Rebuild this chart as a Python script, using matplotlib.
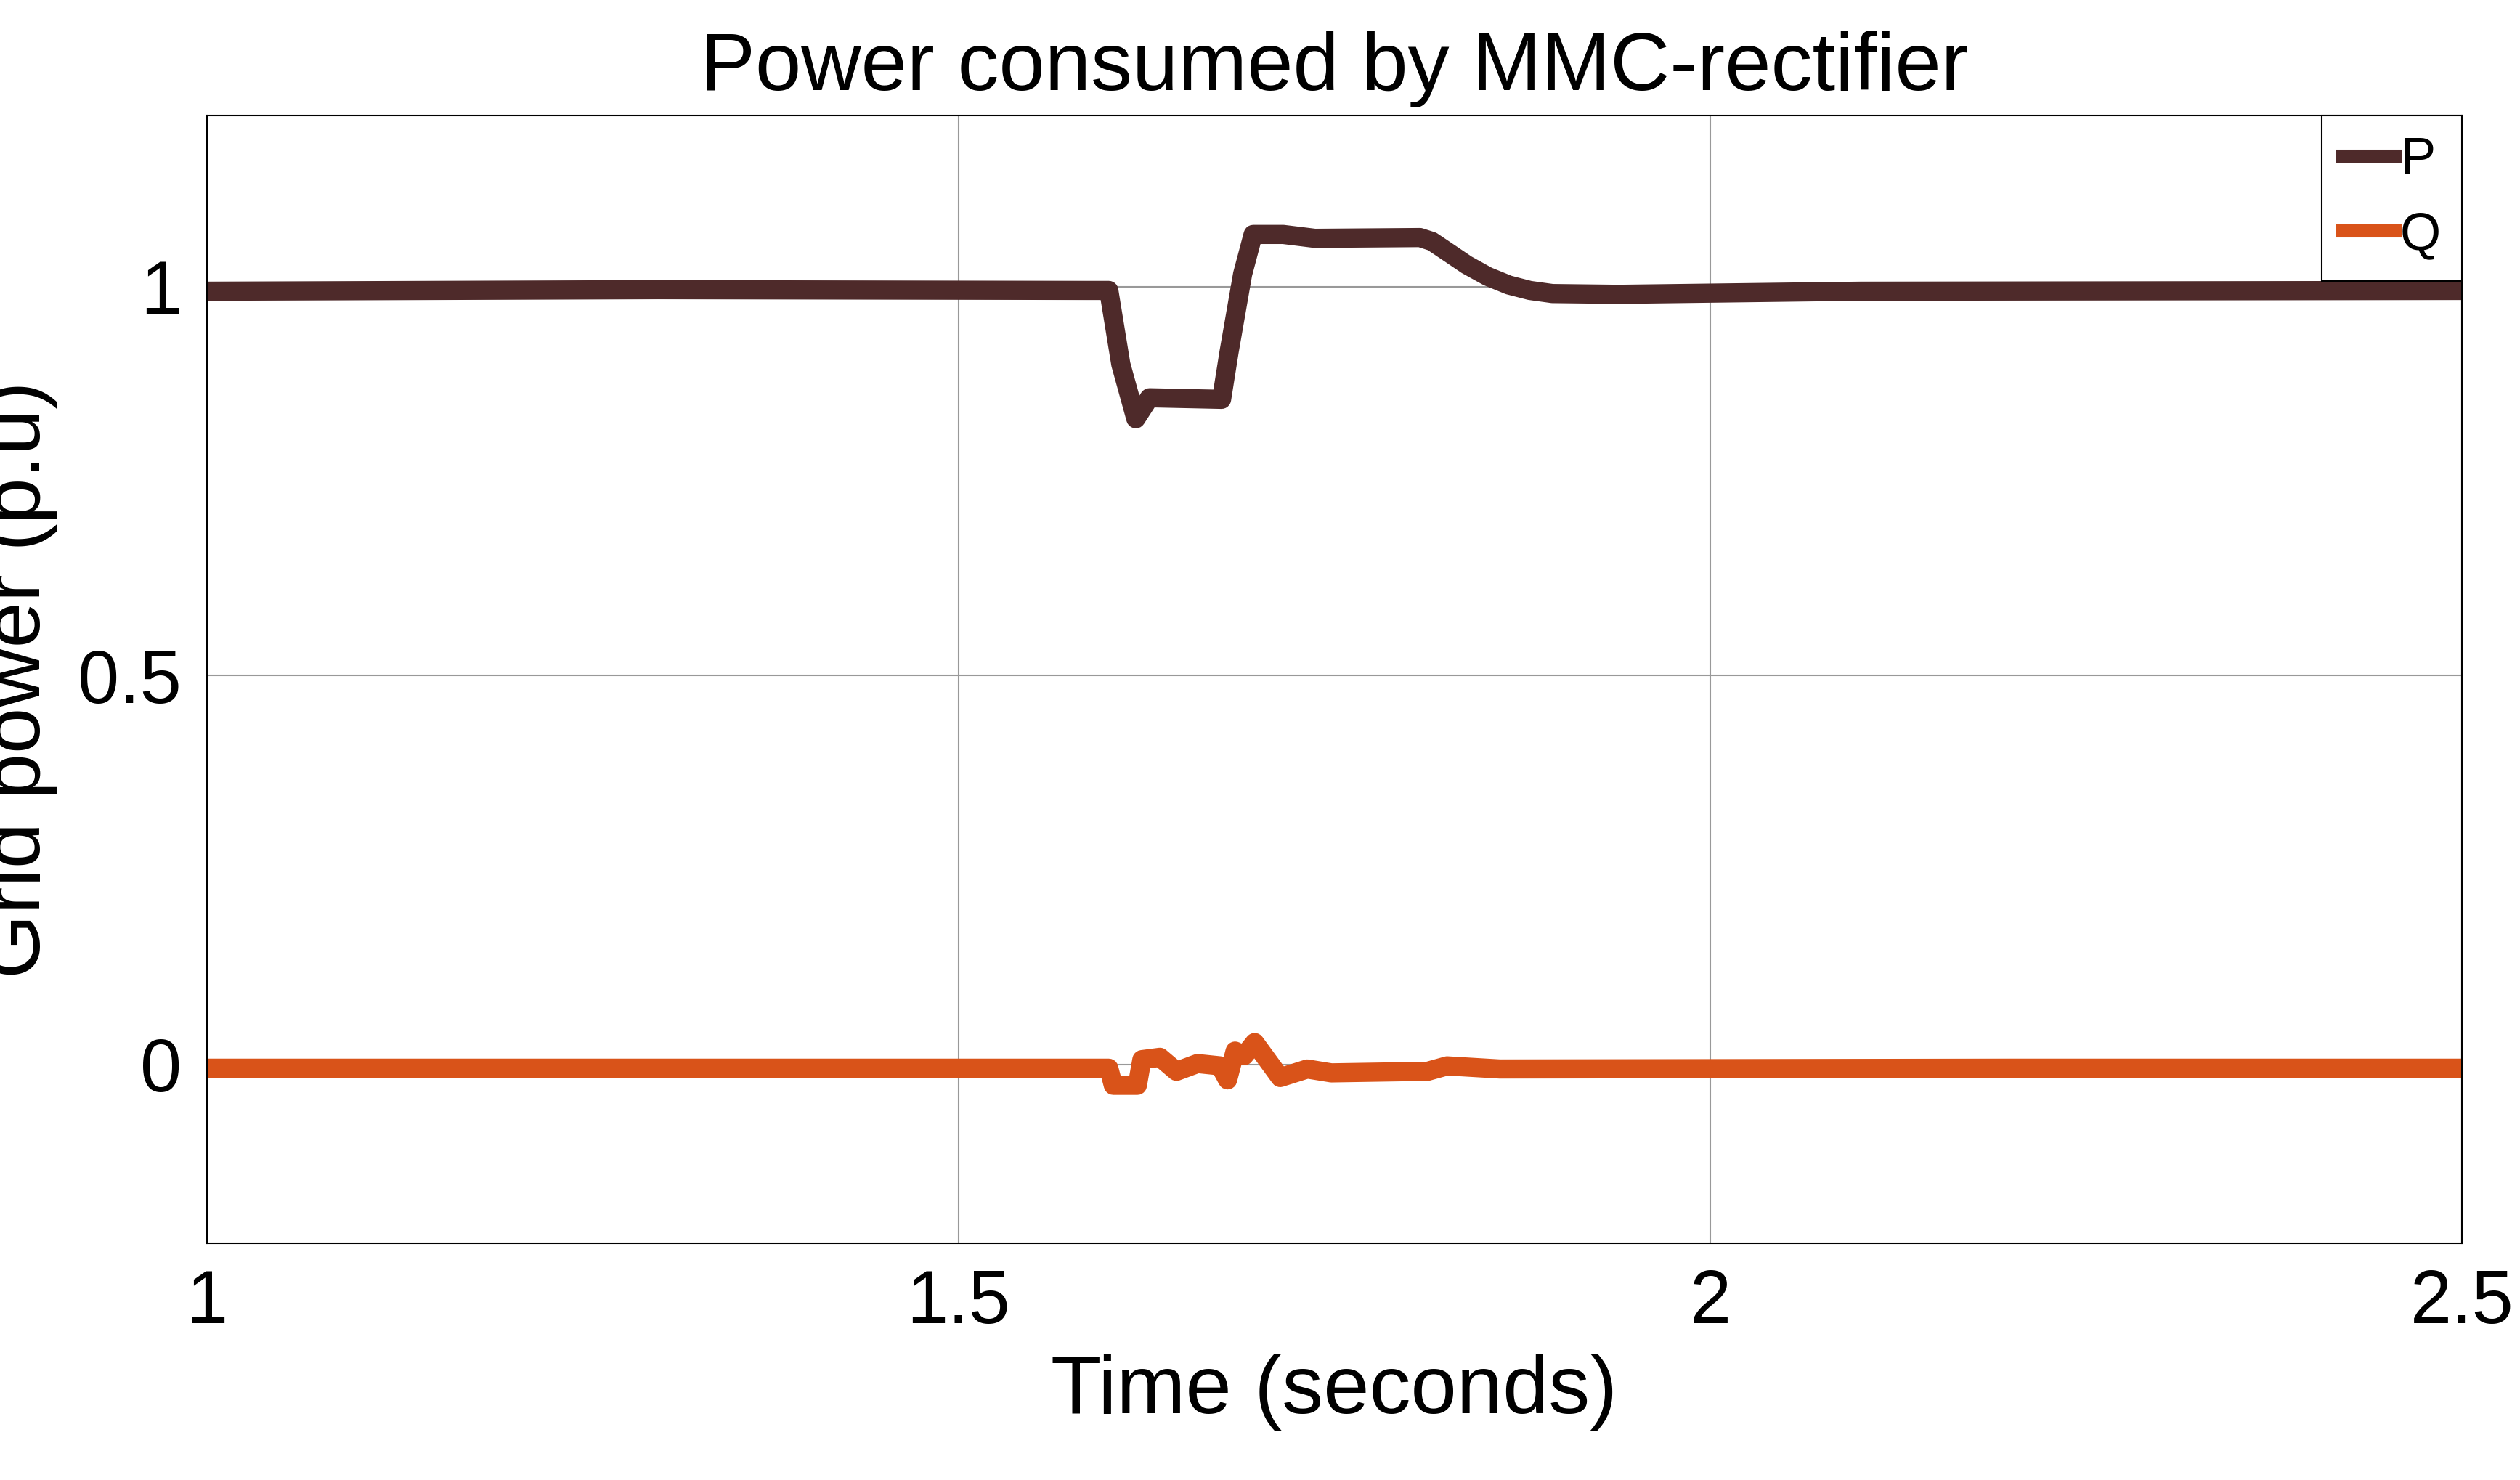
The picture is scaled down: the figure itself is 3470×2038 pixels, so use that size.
import matplotlib
matplotlib.use("Agg")
from matplotlib import pyplot as plt

plt.rcParams['font.family'] = ['Liberation Sans', 'DejaVu Sans']

# active power P (p.u.)
p_time = [1.0, 1.3, 1.585, 1.600, 1.608, 1.618, 1.627, 1.675, 1.680, 1.689,
          1.696, 1.716, 1.737, 1.807, 1.815, 1.825, 1.838, 1.852, 1.866,
          1.880, 1.895, 1.939, 2.1, 2.5]
p_vals = [0.994, 0.996, 0.995, 0.995, 0.90, 0.83, 0.857, 0.855, 0.916, 1.016,
          1.067, 1.067, 1.062, 1.063, 1.058, 1.045, 1.028, 1.013, 1.002,
          0.995, 0.991, 0.990, 0.994, 0.995]

# reactive power Q (p.u.)
q_time = [1.0, 1.3, 1.600, 1.603, 1.619, 1.622, 1.634, 1.645, 1.659, 1.674,
          1.679, 1.684, 1.690, 1.697, 1.714, 1.732, 1.748, 1.812, 1.825,
          1.86, 2.2, 2.5]
q_vals = [-0.005, -0.005, -0.005, -0.027, -0.027, 0.006, 0.009, -0.009,
          0.001, -0.002, -0.020, 0.017, 0.011, 0.028, -0.017, -0.006, -0.011,
          -0.009, -0.002, -0.006, -0.005, -0.005]

fig = plt.figure(figsize=(34.7, 20.38), dpi=100)
ax = fig.add_axes([0.082, 0.160, 0.895, 0.762])

ax.plot(p_time, p_vals, color="#4e2a2a", linewidth=19, label="P")
ax.plot(q_time, q_vals, color="#d95319", linewidth=19, label="Q")

ax.set_xlim(1, 2.5)
ax.set_ylim(-0.23, 1.22)
ax.set_xticks([1, 1.5, 2, 2.5])
ax.set_xticklabels(["1", "1.5", "2", "2.5"])
ax.set_yticks([0, 0.5, 1])
ax.set_yticklabels(["0", "0.5", "1"])
ax.tick_params(labelsize=74, length=0, pad=25)
ax.grid(True, color="#999999", linewidth=1.5)
for s in ax.spines.values():
    s.set_linewidth(1.5)

ax.set_title("Power consumed by MMC-rectifier", fontsize=82, pad=25)
ax.set_xlabel("Time (seconds)", fontsize=82, labelpad=15)
ax.set_ylabel("Grid power (p.u)", fontsize=82, labelpad=20)

leg = ax.legend(loc="upper right", fontsize=52, handlelength=1.0,
                handletextpad=0.1, borderaxespad=0.0, fancybox=False,
                framealpha=1, edgecolor="black", borderpad=0.4)
leg.get_frame().set_linewidth(1.5)
for line in leg.get_lines():
    line.set_linewidth(13)

fig.savefig("out.png")
